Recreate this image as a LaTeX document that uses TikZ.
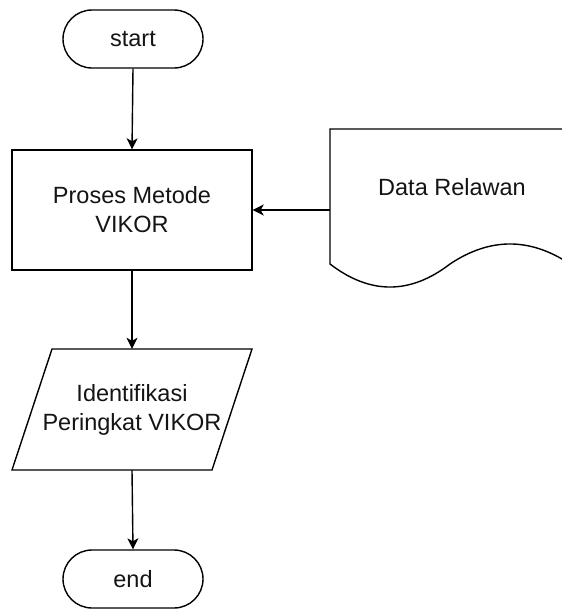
\documentclass[tikz,border=0pt]{standalone}
\usepackage{fontspec}
\setmainfont{Liberation Sans}
\usetikzlibrary{arrows.meta}
\begin{document}
\begin{tikzpicture}[x=1pt,y=-1pt,
  shp/.style={draw=black,line width=1.4pt,fill=white},
  txt/.style={font=\fontsize{23.5}{29}\selectfont,text=black!92,align=center,inner sep=0pt},
  term/.style={shp,txt,minimum width=140pt,minimum height=58pt,rounded corners=29pt},
  procbox/.style={shp,txt,minimum width=240pt,minimum height=120pt},
  conn/.style={draw=black,line width=1.4pt,-{Stealth[length=11pt,width=11pt,inset=3pt]}}]
\useasboundingbox (0,0) rectangle (562,611);
% terminals and process
\node[term] (start) at (133,39) {start};
\node[procbox] (proc) at (132,210) {Proses Metode\\VIKOR};
% document shape (cut at the right edge)
\begin{scope}
\clip (0,0) rectangle (562,611);
\draw[shp] (570,129) -- (330,129) -- (330,264)
  .. controls (370,294.7) and (410,294.7) .. (450,264)
  .. controls (490,237.3) and (530,237.3) .. (570,264) -- cycle;
\end{scope}
\node[txt] (data) at (452,187) {Data Relawan};
\coordinate (dataw) at (330,210);
% input/output parallelogram
\draw[shp] (52,349) -- (252,349) -- (212,470) -- (12,470) -- cycle;
\node[txt,minimum width=200pt,minimum height=121pt] (io) at (132,409.5) {Identifikasi\\Peringkat VIKOR};
\node[term] (end) at (133,579) {end};
% connectors
\draw[conn] (start.south) -- (proc.north);
\draw[conn] (dataw) -- (proc.east);
\draw[conn] (proc.south) -- (io.north);
\draw[conn] (io.south) -- (end.north);
\end{tikzpicture}
\end{document}
